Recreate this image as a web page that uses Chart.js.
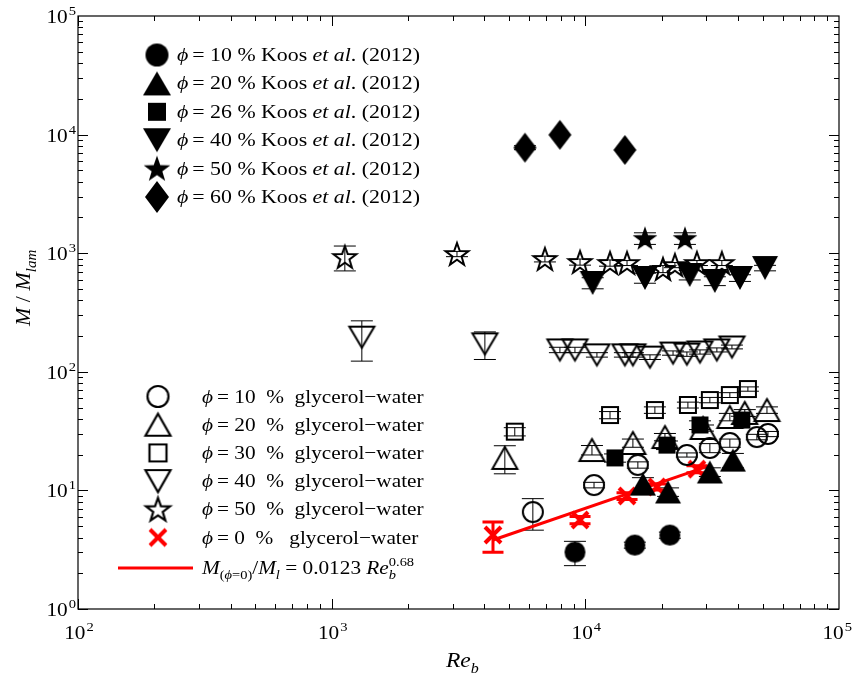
<!DOCTYPE html>
<html>
<head>
<meta charset="utf-8">
<script src="https://cdn.jsdelivr.net/npm/chart.js@4"></script>
<style>
  body { margin: 0; background: #fff; }
  #wrap { width: 853px; height: 683px; position: relative; }
</style>
</head>
<body>
<div id="wrap"><canvas id="grafica"></canvas></div>
<script>
// Datos (Re_b, M/M_lam, barra de error +-)
// Koos et al. (2012) - simbolos rellenos
const koos10X = [9100, 15670, 21540];
const koos10Y = [3.02, 3.46, 4.2];
const koos10E = [0.7, 0.2, 0.25];

const koos20X = [16870, 21190, 30970, 38170];
const koos20Y = [11.3, 9.7, 14.3, 18.0];
const koos20E = [1.5, 0.8, 1.2, 2.5];

const koos26X = [13090, 20980, 28310, 41400];
const koos26Y = [18.8, 24.1, 35.6, 39.2];
const koos26E = [1.5, 2, 3, 3];

const koos40X = [10690, 17180, 25800, 32400, 40700, 51100];
const koos40Y = [561, 618, 655, 583, 618, 750];
const koos40E = [60, 60, 60, 50, 40, 40];

const koos50X = [17180, 24700];
const koos50Y = [1336, 1336];
const koos50E = [150, 150];

const koos60X = [5780, 7940, 14320];
const koos60Y = [7760, 9950, 7420];
const koos60E = [300, 0, 0];

// glicerol-agua - simbolos abiertos
const gw10X = [6210, 10820, 16110, 25140, 30970, 37130, 47450, 52480];
const gw10Y = [6.57, 11.1, 16.4, 19.9, 22.8, 25.1, 28.2, 29.9];
const gw10E = [1.95, 0.6, 1.0, 0.8, 2, 2, 1.5, 1.5];

const gw20X = [4816, 10620, 15400, 20600, 29100, 37130, 42520, 52000];
const gw20Y = [18.8, 21.9, 25.1, 28.2, 33.6, 41.6, 45.0, 47.6];
const gw20E = [5, 2, 2, 2, 2, 3, 3, 3];

const gw30X = [5270, 12510, 18800, 25370, 30970, 37130, 43740];
const gw30Y = [31.3, 43.2, 47.6, 52.5, 57.8, 63.7, 71.6];
const gw30E = [2.5, 3, 3, 3, 3, 3, 3];

const gw40X = [1315, 4018, 7940, 9100, 11110, 14320, 15400, 17980, 22170, 25140, 28310, 33000, 37840];
const gw40Y = [196, 172, 153, 153, 139, 139, 139, 133, 144, 141, 147, 153, 162];
const gw40E = [73, 45, 8, 8, 6, 6, 6, 6, 6, 6, 6, 6, 6];

const gw50X = [1127, 3119, 6930, 9530, 12510, 14600, 20230, 22550, 27540, 34530];
const gw50Y = [929, 985, 894, 843, 827, 827, 736, 795, 827, 827];
const gw50E = [220, 50, 50, 50, 50, 40, 50, 40, 40, 40];

const gw0X = [4325, 9530, 14600, 19150, 27540];
const gw0Y = [4.21, 5.63, 8.97, 10.7, 15.1];
const gw0E = [1.2, 0.4, 0.6, 0.6, 1.0];

// ajuste M(phi=0)/M_l = 0.0123 Re_b^0.68 (extremos leidos)
const fitX = [4300, 30500];
const fitY = [3.8, 16.0];

const xDecadas = [2, 3, 4, 5];
const yDecadas = [0, 1, 2, 3, 4, 5];

const ROJO = "#ff0000";
const SERIF = "'Liberation Serif', 'DejaVu Serif', serif";
const HS = 1.12; // estirado horizontal del texto

//Marcadores dibujados en canvas
function marcador(forma, relleno, color, w, h, lw) {
  const pad = Math.ceil(lw || 0) + 1;
  const c = document.createElement("canvas");
  c.width = w + 2 * pad;
  c.height = h + 2 * pad;
  const g = c.getContext("2d");
  const cx = c.width / 2, cy = c.height / 2;
  g.beginPath();
  if (forma === "circle") {
    g.arc(cx, cy, w / 2, 0, Math.PI * 2);
  } else if (forma === "triUp") {
    g.moveTo(cx, pad); g.lineTo(pad + w, pad + h); g.lineTo(pad, pad + h); g.closePath();
  } else if (forma === "triDown") {
    g.moveTo(pad, pad); g.lineTo(pad + w, pad); g.lineTo(cx, pad + h); g.closePath();
  } else if (forma === "square") {
    g.rect(pad, pad, w, h);
  } else if (forma === "diamond") {
    g.moveTo(cx, pad); g.lineTo(pad + w, cy); g.lineTo(cx, pad + h); g.lineTo(pad, cy); g.closePath();
  } else if (forma === "star") {
    const R = w / 2, r = R * 0.4;
    for (let i = 0; i < 10; i++) {
      const a = -Math.PI / 2 + i * Math.PI / 5;
      const rr = i % 2 === 0 ? R : r;
      g.lineTo(cx + rr * Math.cos(a), cy + 1 + rr * Math.sin(a));
    }
    g.closePath();
  } else if (forma === "cross") {
    g.moveTo(pad, pad); g.lineTo(pad + w, pad + h);
    g.moveTo(pad + w, pad); g.lineTo(pad, pad + h);
  }
  if (relleno) {
    g.fillStyle = color;
    g.fill();
  } else {
    g.strokeStyle = color;
    g.lineWidth = lw;
    g.lineJoin = "miter";
    g.stroke();
  }
  return c;
}

const mk = {
  koos10: marcador("circle", true, "#000", 21, 21),
  koos20: marcador("triUp", true, "#000", 26, 23),
  koos26: marcador("square", true, "#000", 17, 17),
  koos40: marcador("triDown", true, "#000", 26, 24),
  koos50: marcador("star", true, "#000", 26, 26),
  koos60: marcador("diamond", true, "#000", 23, 30),
  gw10: marcador("circle", false, "#000", 20, 20, 2),
  gw20: marcador("triUp", false, "#000", 25, 22, 2),
  gw30: marcador("square", false, "#000", 16, 16, 2),
  gw40: marcador("triDown", false, "#000", 25, 21, 2),
  gw50: marcador("star", false, "#000", 24, 24, 2),
  gw0: marcador("cross", false, ROJO, 16, 16, 4),
};

// marcadores de la leyenda, algo mayores
const mkL = {
  koos10: marcador("circle", true, "#000", 23, 23),
  koos20: marcador("triUp", true, "#000", 28, 24),
  koos26: marcador("square", true, "#000", 18, 18),
  koos40: marcador("triDown", true, "#000", 28, 24),
  koos50: marcador("star", true, "#000", 28, 28),
  koos60: marcador("diamond", true, "#000", 24, 32),
  gw10: marcador("circle", false, "#000", 21, 21, 2.2),
  gw20: marcador("triUp", false, "#000", 25, 22, 2.2),
  gw30: marcador("square", false, "#000", 17, 17, 2.2),
  gw40: marcador("triDown", false, "#000", 25, 22, 2.2),
  gw50: marcador("star", false, "#000", 25, 25, 2.2),
  gw0: marcador("cross", false, ROJO, 16, 16, 4),
};

function puntos(xs, ys, es) {
  return xs.map((x, i) => ({ x: x, y: ys[i], e: es ? es[i] : 0 }));
}

function serie(label, xs, ys, es, estilo, color, capW, capLw) {
  return {
    label: label,
    data: puntos(xs, ys, es),
    pointStyle: estilo,
    pointRadius: 6,
    pointHoverRadius: 6,
    showLine: false,
    errColor: color || "#000",
    capW: capW || 22,
    capLw: capLw || 1,
  };
}

const datasets = [
  serie("gw40", gw40X, gw40Y, gw40E, mk.gw40),
  serie("gw50", gw50X, gw50Y, gw50E, mk.gw50),
  serie("gw30", gw30X, gw30Y, gw30E, mk.gw30),
  serie("gw20", gw20X, gw20Y, gw20E, mk.gw20),
  serie("gw10", gw10X, gw10Y, gw10E, mk.gw10),
  serie("koos60", koos60X, koos60Y, koos60E, mk.koos60),
  serie("koos50", koos50X, koos50Y, koos50E, mk.koos50),
  serie("koos40", koos40X, koos40Y, koos40E, mk.koos40),
  serie("koos26", koos26X, koos26Y, koos26E, mk.koos26),
  serie("koos20", koos20X, koos20Y, koos20E, mk.koos20),
  serie("koos10", koos10X, koos10Y, koos10E, mk.koos10),
  {
    label: "ajuste",
    type: "line",
    data: puntos(fitX, fitY),
    borderColor: ROJO,
    borderWidth: 3,
    pointRadius: 0,
    showLine: true,
    fill: false,
    noErr: true,
  },
  serie("gw0", gw0X, gw0Y, gw0E, mk.gw0, ROJO, 21, 3),
];

//Texto con cursiva, subindices y superindices (estirado en horizontal)
function textoRico(ctx, segs, x, y, size) {
  let cx = x;
  for (const s of segs) {
    if (s.sp) { cx += s.sp; continue; }
    const fs = s.sub || s.sup ? size * 0.68 : size;
    ctx.font = (s.i ? "italic " : "") + fs + "px " + SERIF;
    let dy = 0;
    if (s.sub) dy = size * 0.28;
    if (s.sup) dy = -size * 0.42;
    ctx.save();
    ctx.translate(cx, y + dy);
    ctx.scale(HS, 1);
    ctx.fillText(s.t, 0, 0);
    ctx.restore();
    const w = ctx.measureText(s.t).width * HS;
    if (s.keep) continue;
    cx += w;
  }
  return cx - x;
}

function potencia(ctx, exp, x, y, align) {
  ctx.font = "19px " + SERIF;
  const w1 = ctx.measureText("10").width * HS;
  ctx.font = "13px " + SERIF;
  const w2 = ctx.measureText(String(exp)).width * HS;
  const total = w1 + w2 + 1;
  let x0 = align === "right" ? x - total : x - total / 2;
  if (x0 + total > 852) x0 = 852 - total;
  textoRico(ctx, [{ t: "10" }], x0, y, 19);
  ctx.font = "13px " + SERIF;
  ctx.save();
  ctx.translate(x0 + w1 + 1, y - 8);
  ctx.scale(HS, 1);
  ctx.fillText(String(exp), 0, 0);
  ctx.restore();
}

const phi = { t: "\u03d5", i: true };

const leyendaKoos = [
  { m: mkL.koos10, n: "10" },
  { m: mkL.koos20, n: "20" },
  { m: mkL.koos26, n: "26" },
  { m: mkL.koos40, n: "40" },
  { m: mkL.koos50, n: "50" },
  { m: mkL.koos60, n: "60" },
];
const leyendaGW = [
  { m: mkL.gw10, n: "10" },
  { m: mkL.gw20, n: "20" },
  { m: mkL.gw30, n: "30" },
  { m: mkL.gw40, n: "40" },
  { m: mkL.gw50, n: "50" },
  { m: mkL.gw0, n: "0", rojo: true },
];

const plugin_dibujo = {
  id: "dibujo",
  beforeDatasetsDraw(chart) {
    const ctx = chart.ctx;
    const sx = chart.scales.x, sy = chart.scales.y;
    ctx.save();
    chart.data.datasets.forEach((ds) => {
      if (ds.noErr) return;
      ctx.strokeStyle = ds.errColor;
      ds.data.forEach((p) => {
        if (!p.e) return;
        const px = sx.getPixelForValue(p.x);
        const y1 = sy.getPixelForValue(p.y + p.e);
        const y2 = sy.getPixelForValue(Math.max(p.y - p.e, 1e-3));
        ctx.lineWidth = ds.capLw;
        ctx.beginPath();
        ctx.moveTo(px, y1); ctx.lineTo(px, y2);
        ctx.moveTo(px - ds.capW / 2, y1); ctx.lineTo(px + ds.capW / 2, y1);
        ctx.moveTo(px - ds.capW / 2, y2); ctx.lineTo(px + ds.capW / 2, y2);
        ctx.stroke();
      });
    });
    ctx.restore();
  },
  afterDraw(chart) {
    const ctx = chart.ctx;
    const a = chart.chartArea;
    const sx = chart.scales.x, sy = chart.scales.y;
    ctx.save();
    ctx.strokeStyle = "#000";
    ctx.fillStyle = "#000";
    ctx.lineWidth = 1.2;
    ctx.strokeRect(a.left, a.top, a.right - a.left, a.bottom - a.top);

    // marcas hacia dentro en los cuatro lados
    ctx.lineWidth = 1;
    ctx.beginPath();
    for (let d = 2; d < 5; d++) {
      for (let k = 1; k < 10; k++) {
        const px = Math.round(sx.getPixelForValue(k * Math.pow(10, d))) + 0.5;
        const L = k === 1 ? 10 : 5;
        ctx.moveTo(px, a.bottom); ctx.lineTo(px, a.bottom - L);
        ctx.moveTo(px, a.top); ctx.lineTo(px, a.top + L);
      }
    }
    for (let d = 0; d < 5; d++) {
      for (let k = 1; k < 10; k++) {
        const py = Math.round(sy.getPixelForValue(k * Math.pow(10, d))) + 0.5;
        const L = k === 1 ? 10 : 5;
        ctx.moveTo(a.left, py); ctx.lineTo(a.left + L, py);
        ctx.moveTo(a.right, py); ctx.lineTo(a.right - L, py);
      }
    }
    ctx.stroke();

    // etiquetas de los ejes
    ctx.textBaseline = "alphabetic";
    ctx.textAlign = "left";
    xDecadas.forEach((d) => potencia(ctx, d, sx.getPixelForValue(Math.pow(10, d)) + 1, a.bottom + 30, "center"));
    yDecadas.forEach((d) => potencia(ctx, d, a.left - 2, sy.getPixelForValue(Math.pow(10, d)) + 7, "right"));

    // titulo eje x
    textoRico(ctx, [{ t: "Re", i: true }, { t: "b", i: true, sub: true }], 446, 667, 21);

    // titulo eje y
    ctx.save();
    ctx.translate(30, 326);
    ctx.rotate(-Math.PI / 2);
    ctx.scale(1 / HS, 1);
    textoRico(ctx, [{ t: "M", i: true }, { t: " / ", i: false }, { t: "M", i: true }, { t: "lam", i: true, sub: true }], 0, 0, 22);
    ctx.restore();

    // leyenda Koos
    leyendaKoos.forEach((r, i) => {
      const y = 55 + i * 28.4;
      ctx.drawImage(r.m, 157 - r.m.width / 2, y - r.m.height / 2);
      textoRico(ctx, [phi, { sp: 4 }, { t: "= " + r.n + " % Koos " }, { t: "et al", i: true }, { t: ". (2012)" }], 177, y + 6, 19.5);
    });

    // leyenda glicerol-agua
    leyendaGW.forEach((r, i) => {
      const y = 396.5 + i * 28.2;
      ctx.drawImage(r.m, 158 - r.m.width / 2, y - r.m.height / 2);
      textoRico(ctx, [phi, { sp: 4 }, { t: "= " + r.n + "  %  " + (r.rojo ? " " : "") + "glycerol\u2212water" }], 202, y + 6, 19);
    });
    const yl = 568;
    ctx.strokeStyle = ROJO;
    ctx.lineWidth = 3;
    ctx.beginPath();
    ctx.moveTo(118, yl); ctx.lineTo(193, yl);
    ctx.stroke();
    const ws = textoRico(ctx, [{ t: "M", i: true }], 202, yl + 6, 19);
    let cx = 202 + ws;
    cx += textoRico(ctx, [{ t: "(", sub: true }, { t: "\u03d5", i: true, sub: true }, { t: "=0)", sub: true }], cx, yl + 6, 19);
    cx += textoRico(ctx, [{ t: "/" }, { t: "M", i: true }, { t: "l", i: true, sub: true }, { t: " = 0.0123 " }, { t: "Re", i: true }], cx, yl + 6, 19);
    textoRico(ctx, [{ t: "b", i: true, sub: true, keep: true }, { t: "0.68", sup: true }], cx, yl + 6, 19);
    ctx.restore();
  },
};

const grafica = document.getElementById("grafica");

new Chart(grafica, {
  type: "scatter",
  data: { datasets: datasets },
  options: {
    responsive: true,
    maintainAspectRatio: false,
    animation: false,
    layout: { padding: { left: 78, right: 14, top: 16, bottom: 74 } },
    plugins: { legend: { display: false }, tooltip: { enabled: false } },
    scales: {
      x: { type: "logarithmic", min: 100, max: 100000, display: false },
      y: { type: "logarithmic", min: 1, max: 100000, display: false },
    },
  },
  plugins: [plugin_dibujo],
});
</script>
</body>
</html>
